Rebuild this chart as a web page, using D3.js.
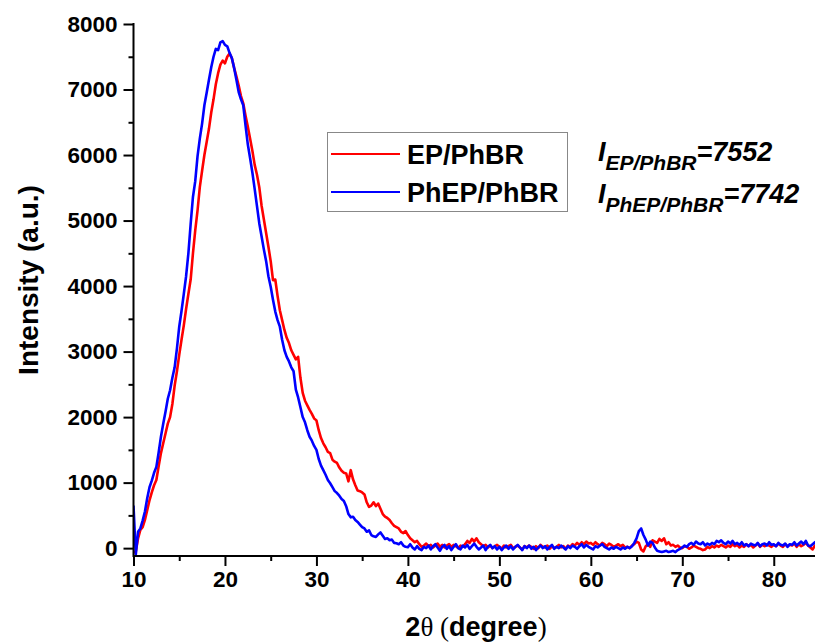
<!DOCTYPE html>
<html>
<head>
<meta charset="utf-8">
<script src="https://cdn.jsdelivr.net/npm/d3@7"></script>
<style>
  html,body{margin:0;padding:0;background:#fff;}
  svg{display:block;}
  text{font-family:"Liberation Sans",Arial,sans-serif;font-weight:bold;fill:#000;}
</style>
</head>
<body>
<svg id="chart" width="815" height="644"></svg>
<script>
// scan grid of the diffractometer: 10..85 deg, step 0.25
var thetaStart = 10, thetaEnd = 85, thetaStep = 0.25;

var seriesNames = ["EP/PhBR", "PhEP/PhBR"];
var seriesColors = ["#ff0000", "#0000ff"];

// EP/PhBR intensity, one value per scan step
var epPhbr = [
  -70, -50, 150, 280,   320, 430, 580, 730,   850, 960, 1040, 1250,
  1450, 1600, 1750, 1900,   2000, 2200, 2480, 2700,   2950, 3180, 3400, 3650,
  3880, 4100, 4500, 4850,   5150, 5510, 5760, 6000,   6200, 6400, 6650, 6850,
  7080, 7250, 7380, 7440,   7400, 7500, 7550, 7480,   7330, 7200, 7060, 6900,
  6790, 6600, 6430, 6250,   6060, 5850, 5700, 5510,   5230, 5020, 4810, 4600,
  4380, 4090, 4100, 3850,   3630, 3480, 3330, 3210,   3130, 3020, 2950, 2880,
  2920, 2600, 2370, 2250,   2180, 2110, 2050, 1980,   1950, 1800, 1680, 1600,
  1540, 1470, 1450, 1350,   1320, 1300, 1230, 1180,   1150, 1140, 1020, 1190,
  1050, 960, 880, 870,   850, 820, 700, 630,   650, 700, 640, 680,
  600, 520, 480, 460,   430, 380, 340, 320,   300, 250, 230, 260,
  200, 150, 120, 90,   110, 60, 20, 40,   70, 30, 50, 10,
  40, 70, 20, 50,   10, 40, 60, 20,   50, 30, 0, 40,
  20, 60, 110, 80,   140, 100, 150, 90,   60, 30, 50, 10,
  40, 0, 30, 50,   20, -10, 40, 10,   30, 50, 0, 20,
  40, 10, -20, 30,   10, 40, 20, -10,   30, 0, 50, 20,
  10, 40, -10, 30,   0, 20, 50, 10,   30, -10, 40, 20,
  60, 40, 80, 50,   90, 60, 100, 70,   80, 50, 90, 60,
  40, 80, 60, 30,   70, 50, 20, 40,   60, 30, 50, 10,
  20, 0, 40, 60,   100, 80, -20, -50,   30, 60, 20, 120,
  100, 80, 140, 110,   150, 60, 90, 40,   50, 20, 40, 10,
  0, 30, 20, -10,   10, 40, 20, 0,   -10, -30, -20, 20,
  0, 30, 10, 40,   20, 50, 30, 10,   40, 20, 60, 30,
  50, 10, 40, 20,   60, 30, 50, 10,   40, 70, 20, 50,
  30, 60, 40, 20,   50, 30, 70, 40,   20, 60, 30, 50,
  40, 70, 20, 60,   30, 50, 80, 40,   10, -20, 40, 60,
  50
];

// PhEP/PhBR intensity, same grid
var phepPhbr = [
  650, -100, 250, 300,   420, 560, 760, 930,   1030, 1150, 1240, 1460,
  1700, 1900, 2080, 2280,   2410, 2600, 2760, 3050,   3380, 3620, 3880, 4150,
  4500, 4950, 5360, 5600,   5980, 6250, 6480, 6760,   6950, 7150, 7340, 7500,
  7620, 7600, 7720, 7740,   7680, 7660, 7560, 7480,   7330, 7150, 6960, 6850,
  6760, 6450, 6160, 5950,   5730, 5480, 5220, 4960,   4760, 4560, 4380, 4150,
  3990, 3790, 3610, 3480,   3380, 3180, 3020, 2920,   2850, 2760, 2700, 2420,
  2300, 2150, 2000, 1920,   1800, 1700, 1640, 1560,   1500, 1360, 1260, 1190,
  1120, 1040, 990, 930,   870, 840, 800, 750,   720, 640, 520, 470,
  480, 430, 400, 360,   320, 300, 250, 270,   200, 180, 170, 210,
  240, 190, 140, 150,   120, 130, 80, 75,   60, 90, 40, 20,
  15, 60, 10, -20,   30, -10, -30, 20,   0, 40, -20, 30,
  60, 10, -40, 20,   50, -10, 30, -30,   20, 60, 0, -20,
  40, 10, 50, -10,   30, 70, 20, -20,   10, 40, -30, 20,
  50, 0, 30, -20,   20, -30, 10, 40,   -10, 30, -20, 20,
  50, 10, -30, 30,   0, 40, -10, 20,   -30, 10, 40, 0,
  30, -20, 20, 50,   -10, 20, 0, 40,   10, -20, 30, 0,
  40, 20, -10, 30,   60, 10, 50, 20,   0, -20, 30, 10,
  40, 60, 20, 0,   -20, 10, -10, 20,   0, -20, 10, -10,
  20, 0, 30, 80,   150, 260, 300, 200,   130, 40, 100, 80,
  10, -40, -50, -60,   -50, -40, -60, -50,   -40, -60, -30, -10,
  10, 40, 20, 60,   80, 50, 100, 70,   60, 90, 40, 70,
  50, 80, 60, 110,   90, 120, 80, 60,   100, 70, 110, 60,
  80, 50, 90, 40,   60, 30, 70, 50,   40, 80, 30, 60,
  70, 40, 90, 50,   60, 30, 80, 50,   40, 70, 20, 60,
  50, 90, 40, 70,   100, 60, 110, 40,   30, 60, 90, 40,
  70
];

var xTicks = [10, 20, 30, 40, 50, 60, 70, 80];
var yTicks = [0, 1000, 2000, 3000, 4000, 5000, 6000, 7000, 8000];

var peakLabels = [
  {sub: "EP/PhBR", value: "7552"},
  {sub: "PhEP/PhBR", value: "7742"}
];

+function(){
  var svg = d3.select("#chart");

  var left = 133.5, top = 24, bottom = 556, right = 819.5;

  var x = d3.scaleLinear().domain([thetaStart, thetaEnd]).range([left, right]);
  var y = d3.scaleLinear().domain([-120, 8000]).range([bottom, top]);

  var grid = d3.range(thetaStart, thetaEnd + thetaStep / 2, thetaStep);

  //клип для области графика
  svg.append("clipPath").attr("id", "plotclip")
    .append("rect").attr("x", left).attr("y", 0)
    .attr("width", 815 - left).attr("height", bottom);

  var line = d3.line()
    .x(function(d, i){ return x(grid[i]); })
    .y(function(d){ return y(d); });

  var plot = svg.append("g").attr("clip-path", "url(#plotclip)");
  [epPhbr, phepPhbr].forEach(function(s, k){
    plot.append("path")
      .datum(s)
      .attr("d", line)
      .attr("fill", "none")
      .attr("stroke", seriesColors[k])
      .attr("stroke-width", 2.6)
      .attr("stroke-linejoin", "round");
  });

  //оси
  var xAxis = d3.axisBottom(x).tickValues(xTicks).tickSize(10).tickPadding(5).tickFormat(d3.format("d"));
  var xMinor = d3.axisBottom(x).tickValues(xTicks.map(function(t){ return t + 5; }).filter(function(t){ return t < thetaEnd; }))
    .tickSize(5).tickFormat("");
  var yAxis = d3.axisLeft(y).tickValues(yTicks).tickSize(10).tickPadding(6).tickFormat(d3.format("d"));
  var yMinor = d3.axisLeft(y).tickValues(yTicks.slice(0, -1).map(function(t){ return t + 500; }))
    .tickSize(5).tickFormat("");

  function styleAxis(g){
    g.select(".domain").remove();
    g.selectAll(".tick line").attr("stroke", "#000").attr("stroke-width", 2);
    g.selectAll(".tick text").style("font-size", "22.5px").style("font-weight", "bold")
      .style("font-family", "'Liberation Sans',Arial,sans-serif").attr("fill", "#000");
  }

  svg.append("g").attr("transform", "translate(0," + bottom + ")").call(xAxis).call(styleAxis);
  svg.append("g").attr("transform", "translate(0," + bottom + ")").call(xMinor).call(styleAxis);
  svg.append("g").attr("transform", "translate(" + left + ",0)").call(yAxis).call(styleAxis);
  svg.append("g").attr("transform", "translate(" + left + ",0)").call(yMinor).call(styleAxis);

  svg.append("line").attr("x1", left).attr("x2", 815).attr("y1", bottom).attr("y2", bottom)
    .attr("stroke", "#000").attr("stroke-width", 2);
  svg.append("line").attr("x1", left).attr("x2", left).attr("y1", top - 1).attr("y2", bottom + 1)
    .attr("stroke", "#000").attr("stroke-width", 2);

  //подписи осей
  svg.append("text")
    .attr("transform", "translate(38,280) rotate(-90)")
    .attr("text-anchor", "middle")
    .style("font-size", "28px")
    .text("Intensity (a.u.)");

  var xt = svg.append("text")
    .attr("x", 476).attr("y", 636)
    .attr("text-anchor", "middle")
    .style("font-size", "27px");
  xt.append("tspan").text("2");
  xt.append("tspan").style("font-family", "'Liberation Serif','Times New Roman',serif").style("font-weight", "normal").text("\u03b8 (");
  xt.append("tspan").text("degree");
  xt.append("tspan").style("font-family", "'Liberation Serif','Times New Roman',serif").style("font-weight", "normal").text(")");

  //легенда
  var lg = svg.append("g");
  lg.append("rect").attr("x", 327.5).attr("y", 132.5).attr("width", 240).attr("height", 79)
    .attr("fill", "#fff").attr("stroke", "#888").attr("stroke-width", 1);
  seriesNames.forEach(function(name, k){
    var ly = 154 + k * 38;
    lg.append("line").attr("x1", 331).attr("x2", 400).attr("y1", ly).attr("y2", ly)
      .attr("stroke", seriesColors[k]).attr("stroke-width", 2);
    lg.append("text").attr("x", 407).attr("y", ly + 9.5).style("font-size", "27px").text(name);
  });

  //значения пиков
  peakLabels.forEach(function(p, k){
    var t = svg.append("text")
      .attr("x", 598).attr("y", 161 + k * 42)
      .style("font-size", "27px").style("font-style", "italic");
    t.append("tspan").text("I");
    t.append("tspan").attr("dy", 9).style("font-size", "21px").text(p.sub);
    t.append("tspan").attr("dy", -9).text("=" + p.value);
  });
}();
</script>
</body>
</html>
